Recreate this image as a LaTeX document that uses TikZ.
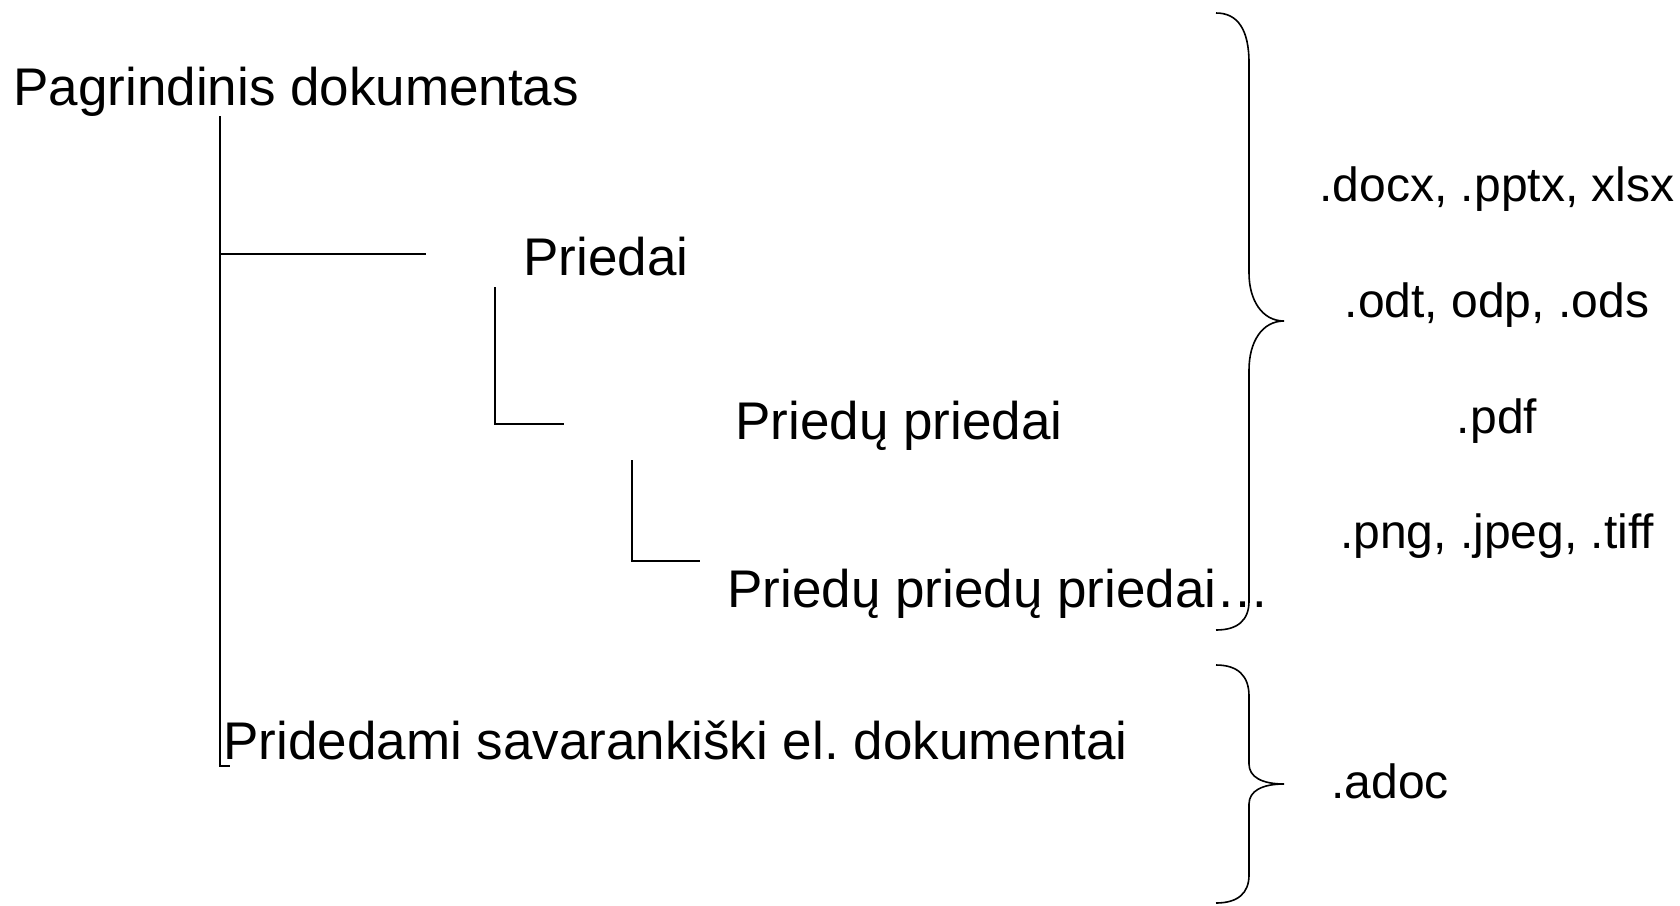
\documentclass[tikz,border=0pt]{standalone}
\usepackage{fontspec}
\setmainfont{Liberation Sans}
\frenchspacing
\begin{document}
\begin{tikzpicture}[x=0.5pt,y=-0.5pt,
  lefttext/.style={anchor=base west,inner sep=0pt,font=\fontsize{26.5pt}{30pt}\selectfont},
  righttext/.style={anchor=base,inner sep=0pt,font=\fontsize{24pt}{28pt}\selectfont},
  conn/.style={draw=black,line width=0.8pt},
  bracestyle/.style={draw=black,line width=0.8pt}]
\useasboundingbox (0,0) rectangle (1680,905);
% texts
\node[lefttext] (pag) at (13,105) {Pagrindinis dokumentas};
\node[lefttext] (pri) at (523,275) {Priedai};
\node[lefttext] (pp) at (735,439) {Priedų priedai};
\node[lefttext] (ppp) at (727,607) {Priedų priedų priedai…};
\node[lefttext] (prid) at (223,759) {Pridedami savarankiški el.\ dokumentai};
\node[righttext] (f1) at (1497,201) {.docx, .pptx, xlsx};
\node[righttext] (f2) at (1497,317) {.odt, odp, .ods};
\node[righttext] (f3) at (1497,433) {.pdf};
\node[righttext] (f4) at (1497,548) {.png, .jpeg, .tiff};
\node[anchor=base west,inner sep=0pt,font=\fontsize{24pt}{28pt}\selectfont] (f5) at (1331,798) {.adoc};
% connector coordinates
\coordinate (t0) at (220,116);
\coordinate (t1) at (220,766);
\coordinate (t2) at (230,766);
\coordinate (b0) at (220,254);
\coordinate (b1) at (426,254);
\coordinate (p0) at (495,287);
\coordinate (p1) at (495,424);
\coordinate (p2) at (564,424);
\coordinate (q0) at (632,460);
\coordinate (q1) at (632,561);
\coordinate (q2) at (700,561);
\draw[conn] (t0) -- (t1) -- (t2);
\draw[conn] (b0) -- (b1);
\draw[conn] (p0) -- (p1) -- (p2);
\draw[conn] (q0) -- (q1) -- (q2);
% big brace
\coordinate (B0) at (1216,13);
\coordinate (Btip) at (1284,321);
\coordinate (B1) at (1216,630);
\draw[bracestyle] (B0) .. controls (1238,13) and (1249,30) .. (1249,63)
  -- (1249,273) .. controls (1249,300) and (1262,321) .. (Btip)
  .. controls (1262,321) and (1249,342) .. (1249,370)
  -- (1249,601) .. controls (1249,620) and (1238,630) .. (B1);
% small brace
\coordinate (S0) at (1216,665);
\coordinate (Stip) at (1284,784);
\coordinate (S1) at (1216,903);
\draw[bracestyle] (S0) .. controls (1238,665) and (1249,676) .. (1249,696)
  -- (1249,764) .. controls (1249,777) and (1262,784) .. (Stip)
  .. controls (1262,784) and (1249,791) .. (1249,804)
  -- (1249,875) .. controls (1249,893) and (1238,903) .. (S1);
\end{tikzpicture}
\end{document}
